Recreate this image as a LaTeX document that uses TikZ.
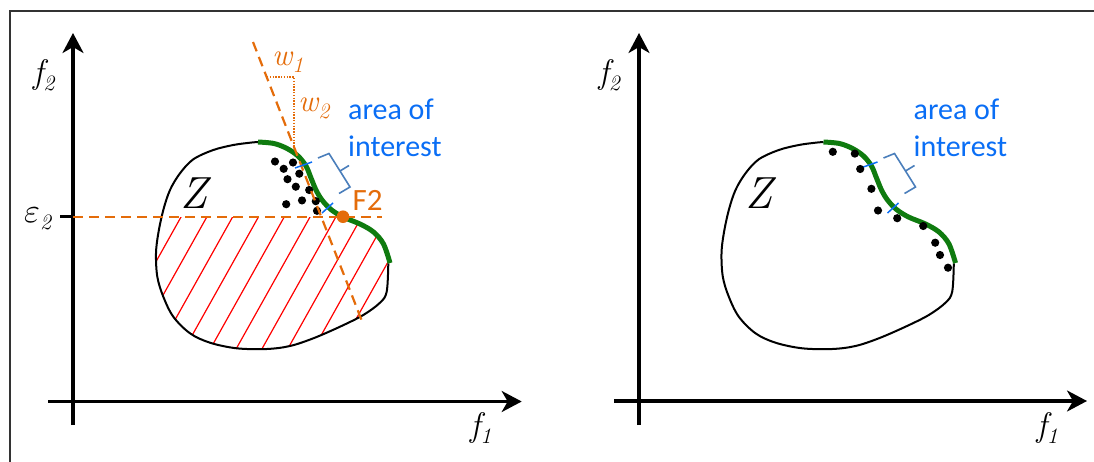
\documentclass[tikz,border=0pt]{standalone}
\usepackage{fontspec}
\newfontfamily\tms{Latin Modern Roman}
\newfontfamily\carlito{Carlito}
\usetikzlibrary{arrows.meta}
\definecolor{ora}{HTML}{E46C0A}
\definecolor{grn}{HTML}{0F7B0F}
\definecolor{lblue}{HTML}{0A6EF5}
\definecolor{sblue}{HTML}{4A7EBB}
\newcommand{\vsub}[2]{#1\raisebox{-7pt}{\fontsize{22}{22}\selectfont #2}}
\newcommand{\bigeps}{\scalebox{3.4}{\fontsize{10}{10}\selectfont$\varepsilon$}}
\newcommand{\blackpts}{(258,142) (250,142.7) (233.3,145) (213.3,150) (193.3,159.3) (180,173.3) (170,190) (163.3,210) (158.3,233.3) (156,253.3) (157.3,276.7) (163.3,296.7) (173.3,316.7) (190,333.3) (210,342.7) (236.7,348.3) (266.7,349) (290,346) (313.3,338.3) (340,326.7) (363.3,315) (380,302.7) (386.7,291.7) (388.3,263.3)}
\newcommand{\greenpts}{(258,142) (274,143.5) (287,148.5) (298,156) (306,166) (311,178) (316,190) (322,200) (331,209.5) (343,217) (360,224) (373.5,232) (383.5,244) (390,263)}
\newcommand{\greenrev}{(383.5,244) (373.5,232) (360,224) (343,217) (331,209.5) (322,200) (316,190) (311,178) (306,166) (298,156) (287,148.5) (274,143.5)}
\tikzset{
  axis/.style={line width=3.2pt, -{Stealth[length=20pt,width=21pt,inset=6pt]}},
  outline/.style={line width=2pt, black},
  front/.style={line width=5pt, grn},
  odash/.style={ora, line width=2.2pt, dash pattern=on 10pt off 6pt},
  odot/.style={ora, line width=1.3pt, dash pattern=on 1.3pt off 1.5pt},
  hatch/.style={red, line width=1.2pt},
  tick/.style={lblue, line width=1.5pt},
  brace/.style={sblue, line width=1.6pt},
  flab/.style={inner sep=0, font=\tms\fontsize{34}{34}\selectfont\itshape},
  wlab/.style={inner sep=0, ora, font=\tms\fontsize{31}{31}\selectfont\itshape},
  zlab/.style={inner sep=0, font=\tms\fontsize{45}{45}\selectfont\itshape},
  aoi/.style={inner sep=0, anchor=north west, align=left, lblue, font=\carlito\fontsize{30}{37}\selectfont},
}
\begin{document}
\begin{tikzpicture}[x=1pt,y=-1pt]
\useasboundingbox (0,0) rectangle (1094,461);
% frame
\draw[line width=2pt, black!80] (9.5,470) -- (9.5,11) -- (1100,11);

% ================= left panel =================
\begin{scope}
  \clip plot[smooth cycle, tension=0.55] coordinates {\blackpts (390,263) \greenrev};
  \clip (0,217.5) rectangle (600,460);
  \foreach \k in {0,...,9}{
    \draw[hatch] ({181+25.8*\k+0.56*30},187) -- ({181+25.8*\k-0.56*170},387);
  }
\end{scope}
\draw[outline] plot[smooth, tension=0.55] coordinates {\blackpts};
\draw[front] plot[smooth, tension=0.55] coordinates {\greenpts};

% axes
\coordinate (Ly0) at (73,425); \coordinate (Ly1) at (73,33);
\coordinate (Lx0) at (48,401.5); \coordinate (Lx1) at (521.7,401.5);
\draw[axis] (Ly0) -- (Ly1);
\draw[axis] (Lx0) -- (Lx1);
\node[flab, anchor=base west] (Lf2) at (33,83) {\vsub{f}{2}};
\node[flab, anchor=base west] (Lf1) at (470,436) {\vsub{f}{1}};
\node[flab, anchor=base west] (eps) at (24,222) {\vsub{\bigeps}{2}};
\coordinate (tk0) at (60,216.7); \coordinate (tk1) at (73,216.7);
\draw[line width=3pt] (tk0) -- (tk1);

% dots
\foreach \p in {(275,161.5),(293,162.5),(283.7,168.8),(299.3,173.7),(287.5,179.2),(295.8,186.7),(309.2,190),(286.2,204.2),(302,200.4),(315.8,201.2),(317,210.8)}
  \fill \p circle[radius=4.1pt];

% dashed lines
\coordinate (eh1) at (382,216.7);
\draw[odash] (tk1) -- (eh1);
\coordinate (s0) at (253,42); \coordinate (s1) at (363.5,325);
\draw[odash] (s0) -- (s1);
\coordinate (d0) at (267,77); \coordinate (d1) at (294,77); \coordinate (d2) at (294,148);
\draw[odot] (d0) -- (d1) -- (d2);
\node[wlab, anchor=base west] (w1) at (272,65) {\vsub{w}{1}};
\node[wlab, anchor=base west] (w2) at (298,111) {\vsub{w}{2}};

% F2
\fill[ora] (343,216.7) circle[radius=6.3pt];
\node[inner sep=0, anchor=base west, ora, font=\carlito\fontsize{31}{31}\selectfont] (F2) at (352.5,210) {F2};

% area of interest
\draw[tick] (295,168) -- (312,162);
\draw[tick] (322,213) -- (333,203);
\draw[brace] (318,158) -- (329,153.5) -- (340,171) -- (350,187) -- (339,193.5);
\draw[brace] (340,171) -- (349,165.5);
\node[aoi] (La) at (348,99) {area of\\interest};
\node[zlab, anchor=base west] (LZ) at (180,208) {Z};

% ================= right panel =================
\begin{scope}[shift={(565.5,0)}]
\draw[outline] plot[smooth, tension=0.55] coordinates {\blackpts};
\draw[front] plot[smooth, tension=0.55] coordinates {\greenpts};
\coordinate (Ry0) at (73.5,425); \coordinate (Ry1) at (73.5,33);
\coordinate (Rx0) at (48.5,401); \coordinate (Rx1) at (521.5,401);
\draw[axis] (Ry0) -- (Ry1);
\draw[axis] (Rx0) -- (Rx1);
\node[flab, anchor=base west] (Rf2) at (33,83) {\vsub{f}{2}};
\node[flab, anchor=base west] (Rf1) at (471,436) {\vsub{f}{1}};
\draw[tick] (295,168) -- (312,162);
\draw[tick] (322,213) -- (333,203);
\draw[brace] (318,158) -- (329,153.5) -- (340,171) -- (350,187) -- (339,193.5);
\draw[brace] (340,171) -- (349,165.5);
\node[aoi] (Ra) at (348,99) {area of\\interest};
\node[zlab, anchor=base west] (RZ) at (180,208) {Z};
\end{scope}
\foreach \p in {(832.8,151.8),(854.8,153.6),(860.2,169),(871.4,188.8),(878,210.5),(897.2,218.2),(923.2,226),(935.2,242.7),(940,255),(948,267.7)}
  \fill \p circle[radius=4.1pt];
\end{tikzpicture}
\end{document}
